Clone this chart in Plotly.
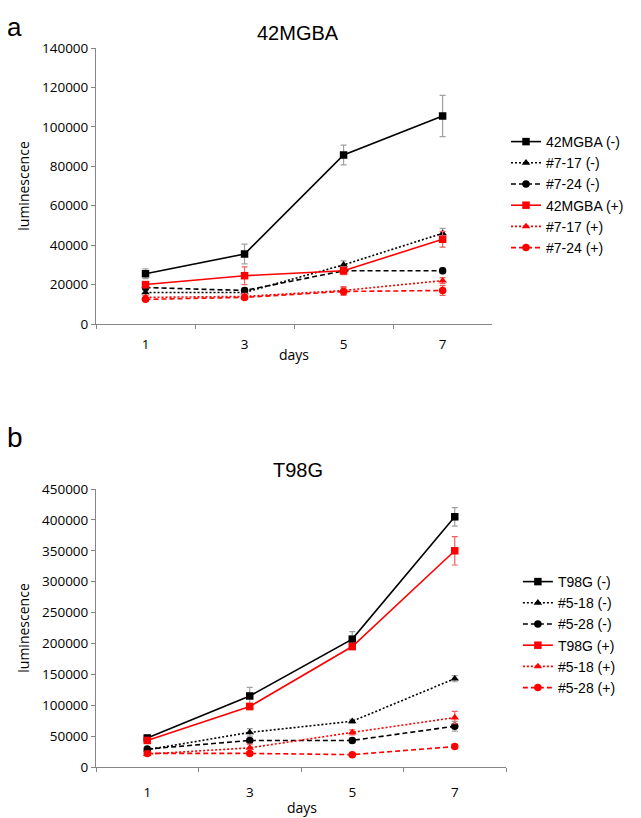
import plotly.graph_objects as go

days = ["1", "3", "5", "7"]

# Panel a: 42MGBA
a_names = ["42MGBA (-)", "#7-17 (-)", "#7-24 (-)", "42MGBA (+)", "#7-17 (+)", "#7-24 (+)"]
a_42mgba_neg = [25500, 35500, 85700, 105500]
a_717_neg = [16000, 16000, 30000, 46000]
a_724_neg = [18500, 17000, 27000, 27000]
a_42mgba_pos = [20000, 24500, 27000, 43000]
a_717_pos = [13500, 14000, 17000, 22000]
a_724_pos = [12500, 13500, 16500, 17000]
a_42mgba_neg_err = [2500, 5000, 5000, 10500]
a_717_neg_err = [1500, 1500, 2000, 2500]
a_724_neg_err = [1500, 1500, 1500, 1500]
a_42mgba_pos_err = [1500, 4500, 2000, 4000]
a_717_pos_err = [1000, 1500, 2000, 1500]
a_724_pos_err = [1000, 1000, 2000, 2500]

# Panel b: T98G
b_names = ["T98G (-)", "#5-18 (-)", "#5-28 (-)", "T98G (+)", "#5-18 (+)", "#5-28 (+)"]
b_t98g_neg = [47000, 115000, 207000, 405000]
b_518_neg = [28000, 56000, 74000, 143000]
b_528_neg = [29000, 43000, 43000, 66000]
b_t98g_pos = [43000, 98000, 195000, 350000]
b_518_pos = [21000, 31000, 56000, 80000]
b_528_pos = [22000, 22000, 20000, 33000]
b_t98g_neg_err = [4000, 14000, 12000, 15000]
b_518_neg_err = [2000, 6000, 3000, 5000]
b_528_neg_err = [2000, 3000, 4000, 8000]
b_t98g_pos_err = [3000, 5000, 5000, 23000]
b_518_pos_err = [2000, 6000, 4000, 10000]
b_528_pos_err = [2000, 2000, 2000, 3000]

a_tickvals = [0, 20000, 40000, 60000, 80000, 100000, 120000, 140000]
b_tickvals = [0, 50000, 100000, 150000, 200000, 250000, 300000, 350000, 400000, 450000]

BLACK = "#000000"
RED = "#ff0000"
ERR_BLACK = "#a0a0a0"
ERR_RED = "#f06060"

styles = [
    (BLACK, "solid", "square", ERR_BLACK),
    (BLACK, "2px,2px", "triangle-up", ERR_BLACK),
    (BLACK, "5px,3px", "circle", ERR_BLACK),
    (RED, "solid", "square", ERR_RED),
    (RED, "2px,2px", "triangle-up", ERR_RED),
    (RED, "5px,3px", "circle", ERR_RED),
]

fig = go.Figure()

a_series = [a_42mgba_neg, a_717_neg, a_724_neg, a_42mgba_pos, a_717_pos, a_724_pos]
a_errs = [a_42mgba_neg_err, a_717_neg_err, a_724_neg_err, a_42mgba_pos_err, a_717_pos_err, a_724_pos_err]
b_series = [b_t98g_neg, b_518_neg, b_528_neg, b_t98g_pos, b_518_pos, b_528_pos]
b_errs = [b_t98g_neg_err, b_518_neg_err, b_528_neg_err, b_t98g_pos_err, b_518_pos_err, b_528_pos_err]

for name, ys, err, (col, dash, sym, ecol) in zip(a_names, a_series, a_errs, styles):
    fig.add_trace(go.Scatter(
        x=days, y=ys, name=name, mode="lines+markers",
        line=dict(color=col, width=1.6, dash=dash),
        marker=dict(symbol=sym, size=7.5, color=col),
        error_y=dict(type="data", array=err, color=ecol, thickness=1.2, width=3),
        xaxis="x", yaxis="y", legend="legend",
    ))

for name, ys, err, (col, dash, sym, ecol) in zip(b_names, b_series, b_errs, styles):
    fig.add_trace(go.Scatter(
        x=days, y=ys, name=name, mode="lines+markers",
        line=dict(color=col, width=1.6, dash=dash),
        marker=dict(symbol=sym, size=7.5, color=col),
        error_y=dict(type="data", array=err, color=ecol, thickness=1.2, width=3),
        xaxis="x2", yaxis="y2", legend="legend2",
    ))

# the page places the figure 8px from the top-left corner
OFF = 8
W, H = 641 - OFF, 818 - OFF
L, T = 96 - OFF, 48 - OFF
R = W - (510 - OFF)
B = H - (767 - OFF)
PW, PH = W - L - R, H - T - B


def px(xp):
    return (xp - OFF - L) / PW


def py(yp):
    return (H - B - (yp - OFF)) / PH


tickfont = dict(family="Open Sans", size=13.5, color="#000000")
axis_common = dict(
    showline=True, linecolor="#868686", linewidth=1,
    showgrid=False, zeroline=False, ticks="outside", ticklen=4,
    tickcolor="#868686", tickfont=tickfont,
)

fig.update_layout(
    width=W, height=H,
    margin=dict(l=L, r=R, t=T, b=B),
    paper_bgcolor="white", plot_bgcolor="white",
    xaxis=dict(domain=[0, px(496)], anchor="y", type="category",
               range=[-0.5, 3.5], tickson="boundaries", ticklabelstandoff=8,
               **axis_common),
    yaxis=dict(domain=[py(324), 1], anchor="x", range=[0, 140000],
               tickvals=a_tickvals, tickformat="d", **axis_common),
    xaxis2=dict(domain=[0, 1], anchor="y2", type="category",
                range=[-0.5, 3.5], tickson="boundaries", ticklabelstandoff=13,
                **axis_common),
    yaxis2=dict(domain=[0, py(489)], anchor="x2", range=[0, 450000],
                tickvals=b_tickvals, tickformat="d", **axis_common),
    legend=dict(x=px(510), y=py(126), xanchor="left", yanchor="top",
                font=dict(family="Liberation Sans", size=14, color="#000000"),
                bgcolor="rgba(0,0,0,0)"),
    legend2=dict(x=px(522), y=py(566), xanchor="left", yanchor="top",
                 font=dict(family="Liberation Sans", size=14, color="#000000"),
                 bgcolor="rgba(0,0,0,0)"),
    showlegend=True,
)

ann = []
ann.append(dict(text="a", x=px(4), y=py(10), xref="paper", yref="paper",
                xanchor="left", yanchor="top", showarrow=False,
                font=dict(family="Liberation Sans", size=26, color="#000")))
ann.append(dict(text="b", x=px(4), y=py(437), xref="paper", yref="paper",
                xanchor="left", yanchor="middle", showarrow=False,
                font=dict(family="Liberation Sans", size=28, color="#000")))
ann.append(dict(text="42MGBA", x=px(300), y=py(33), xref="paper", yref="paper",
                xanchor="center", yanchor="middle", showarrow=False,
                font=dict(family="Liberation Sans", size=20, color="#000")))
ann.append(dict(text="T98G", x=px(300), y=py(470), xref="paper", yref="paper",
                xanchor="center", yanchor="middle", showarrow=False,
                font=dict(family="Liberation Sans", size=20, color="#000")))
for yc in (186, 628):
    ann.append(dict(text="luminescence", x=px(22), y=py(yc), xref="paper", yref="paper",
                    xanchor="center", yanchor="middle", textangle=-90, showarrow=False,
                    font=dict(family="Open Sans", size=14, color="#000")))
ann.append(dict(text="days", x=px(296), y=py(354), xref="paper", yref="paper",
                xanchor="center", yanchor="middle", showarrow=False,
                font=dict(family="Open Sans", size=14, color="#000")))
ann.append(dict(text="days", x=px(304), y=py(807), xref="paper", yref="paper",
                xanchor="center", yanchor="middle", showarrow=False,
                font=dict(family="Open Sans", size=14, color="#000")))
fig.update_layout(annotations=ann)

fig.write_html("out.html")
